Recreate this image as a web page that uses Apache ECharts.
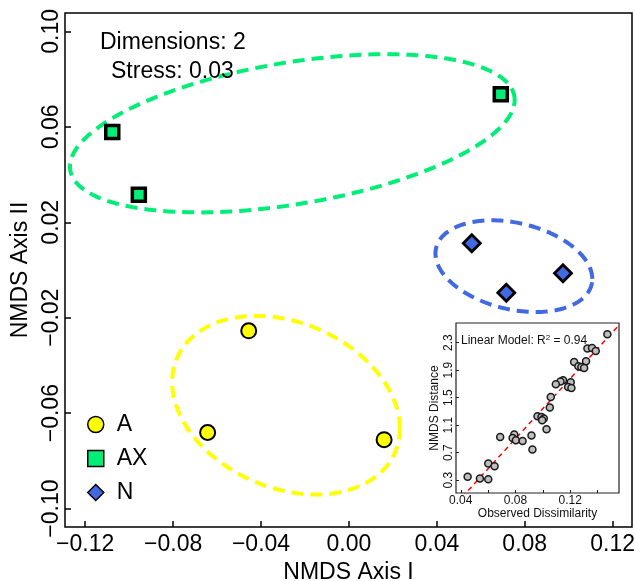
<!DOCTYPE html>
<html>
<head>
<meta charset="utf-8">
<script src="https://cdn.jsdelivr.net/npm/echarts@6/dist/echarts.min.js"></script>
<style>
  html, body { margin: 0; padding: 0; background: #fff; }
  #chart { width: 635px; height: 581px; }
</style>
</head>
<body>
<div id="chart"></div>
<script>
// NMDS ordination scores per group (Axis I, Axis II)
const groupNames = ['A', 'AX', 'N'];
const scoresA  = [[-0.0456, -0.0255], [-0.0643, -0.0681], [0.0160, -0.0711]];
const scoresAX = [[-0.1077, 0.0578], [-0.0956, 0.0315], [0.0691, 0.0737]];
const scoresN  = [[0.0559, 0.0112], [0.0716, -0.0095], [0.0974, -0.0014]];

// Group dispersion ellipses: centre plus two conjugate semi-axis vectors (data units)
const ellipseA  = { center: [-0.02864, -0.05665], u: [0.05182, -0.00978], v: [0, 0.03613] };
const ellipseAX = { center: [-0.02577, 0.05728], u: [0.10118, 0.01397], v: [0, 0.03005] };
const ellipseN  = { center: [0.07505, 0.0016], u: [0.03568, -0.00533], v: [0, 0.01846] };

// Main axis ticks
const xTicks = [-0.12, -0.08, -0.04, 0, 0.04, 0.08, 0.12];
const yTicks = [-0.10, -0.06, -0.02, 0.02, 0.06, 0.10];

// Shepard diagram (inset): observed dissimilarity vs ordination distance
const obsDissimilarity = [0.1472, 0.1326, 0.1360, 0.1387, 0.1229, 0.1316, 0.1260, 0.1282, 0.1302,
  0.1148, 0.1129, 0.1095, 0.1204, 0.1185, 0.1209, 0.1058, 0.1051, 0.0961, 0.0990, 0.1007, 0.0995,
  0.1027, 0.0917, 0.0924, 0.0688, 0.0791, 0.0779, 0.0803, 0.0852, 0.0601, 0.0647, 0.0450, 0.0540, 0.0601];
const nmdsDistance = [2.422, 2.214, 2.223, 2.179, 2.020, 2.030, 1.957, 1.947, 1.932,
  1.753, 1.734, 1.695, 1.725, 1.656, 1.642, 1.511, 1.357, 1.230, 1.220, 1.197, 1.173,
  1.041, 0.950, 0.746, 0.930, 0.964, 0.915, 0.881, 0.870, 0.542, 0.503, 0.350, 0.325, 0.315];
const fitIntercept = -0.838;
const fitSlope = 21.78;
const fitR2 = 0.94;
const insetXTicks = [0.04, 0.06, 0.08, 0.10, 0.12, 0.14];
const insetXLabels = [0.04, 0.08, 0.12];
const insetYTicks = [0.3, 0.7, 1.1, 1.5, 1.9, 2.3];

const stressText = ['Dimensions: 2', 'Stress: 0.03'];

const FONT = 'Liberation Sans, Arial, Helvetica, sans-serif';
const colA = '#FFFF00', colAX = '#00EE76', colN = '#4169E1';

const fmtSigned = (v, d) => (v < -1e-9 ? '\u2212' : '') + Math.abs(v).toFixed(d);

const X_MIN = -0.1292, X_MAX = 0.1288, Y_MIN = -0.1077, Y_MAX = 0.1077;
const IX_MIN = 0.0365, IX_MAX = 0.1557, IY_MIN = 0.115, IY_MAX = 2.585;

function ellipseSeries(e, color) {
  return {
    type: 'custom',
    xAxisIndex: 0, yAxisIndex: 0,
    silent: true,
    z: 2,
    data: [e.center],
    renderItem: function (params, api) {
      const pts = [];
      const n = 180;
      for (let i = 0; i < n; i++) {
        const t = 2 * Math.PI * i / n;
        const c = Math.cos(t), s = Math.sin(t);
        pts.push(api.coord([
          e.center[0] + e.u[0] * c + e.v[0] * s,
          e.center[1] + e.u[1] * c + e.v[1] * s
        ]));
      }
      return {
        type: 'polygon',
        shape: { points: pts },
        style: { fill: 'none', stroke: color, lineWidth: 4, lineDash: [12, 7], lineCap: 'butt' }
      };
    }
  };
}

const chart = echarts.init(document.getElementById('chart'), null, { renderer: 'canvas' });

const option = {
  animation: false,
  backgroundColor: '#fff',
  textStyle: { fontFamily: FONT },
  grid: [
    { left: 65, top: 13, width: 567, height: 514, show: true, borderColor: '#000', borderWidth: 1.5,
      backgroundColor: 'transparent', containLabel: false, outerBoundsMode: 'none' },
    { left: 456, top: 323, width: 163, height: 170, show: true, borderColor: '#222', borderWidth: 1.2,
      backgroundColor: '#fff', containLabel: false, outerBoundsMode: 'none', z: 5 }
  ],
  xAxis: [
    {
      type: 'value', gridIndex: 0, min: X_MIN, max: X_MAX,
      name: 'NMDS Axis I', nameLocation: 'middle', nameGap: 31,
      nameTextStyle: { fontSize: 23, color: '#000', fontFamily: FONT },
      axisLine: { show: false, onZero: false },
      splitLine: { show: false },
      axisTick: { show: true, inside: true, length: 6, customValues: xTicks, lineStyle: { color: '#000', width: 1.5 } },
      axisLabel: { show: true, customValues: xTicks, margin: 6, fontSize: 23, color: '#000', fontFamily: FONT,
        formatter: v => fmtSigned(v, 2) }
    },
    {
      type: 'value', gridIndex: 1, min: IX_MIN, max: IX_MAX, z: 6,
      name: 'Observed Dissimilarity', nameLocation: 'middle', nameGap: 14,
      nameTextStyle: { fontSize: 12, color: '#111', fontFamily: FONT },
      axisLine: { show: false, onZero: false },
      splitLine: { show: false },
      axisTick: { show: true, inside: true, length: 3, customValues: insetXTicks, lineStyle: { color: '#222', width: 1 } },
      axisLabel: { show: true, customValues: insetXLabels, margin: 2, fontSize: 12, color: '#111', fontFamily: FONT,
        formatter: v => v.toFixed(2) }
    }
  ],
  yAxis: [
    {
      type: 'value', gridIndex: 0, min: Y_MIN, max: Y_MAX,
      name: 'NMDS Axis II', nameLocation: 'middle', nameGap: 30, nameRotate: 90,
      nameTextStyle: { fontSize: 23, color: '#000', fontFamily: FONT },
      axisLine: { show: false, onZero: false },
      splitLine: { show: false },
      axisTick: { show: true, inside: true, length: 6, customValues: yTicks, lineStyle: { color: '#000', width: 1.5 } },
      axisLabel: { show: true, customValues: yTicks, rotate: 90, margin: 2, fontSize: 23, color: '#000', fontFamily: FONT,
        formatter: v => fmtSigned(v, 2) }
    },
    {
      type: 'value', gridIndex: 1, min: IY_MIN, max: IY_MAX, z: 6,
      name: 'NMDS Distance', nameLocation: 'middle', nameGap: 15, nameRotate: 90,
      nameTextStyle: { fontSize: 12, color: '#111', fontFamily: FONT },
      axisLine: { show: false, onZero: false },
      splitLine: { show: false },
      axisTick: { show: true, inside: true, length: 3, customValues: insetYTicks, lineStyle: { color: '#222', width: 1 } },
      axisLabel: { show: true, customValues: insetYTicks, rotate: 90, margin: 1, fontSize: 12, color: '#111', fontFamily: FONT,
        formatter: v => v.toFixed(1) }
    }
  ],
  legend: {
    orient: 'vertical', left: 82, top: 408,
    itemWidth: 16, itemHeight: 16, itemGap: 11,
    selectedMode: false,
    textStyle: { fontSize: 23, color: '#000', fontFamily: FONT, padding: [0, 0, 0, 8] },
    data: [
      { name: groupNames[0], icon: 'circle', itemStyle: { color: colA, borderColor: '#000', borderWidth: 1.5 } },
      { name: groupNames[1], icon: 'rect', itemStyle: { color: colAX, borderColor: '#000', borderWidth: 1.5 } },
      { name: groupNames[2], icon: 'diamond', itemStyle: { color: colN, borderColor: '#000', borderWidth: 1.5 } }
    ]
  },
  graphic: [
    { type: 'text', left: 100, top: 31, z: 10, silent: true,
      style: { text: stressText[0], fontSize: 23, fill: '#000', fontFamily: FONT } },
    { type: 'text', left: 111, top: 60, z: 10, silent: true,
      style: { text: stressText[1], fontSize: 23, fill: '#000', fontFamily: FONT } },
    { type: 'text', left: 461, top: 334, z: 20, silent: true,
      style: {
        text: '{t|Linear Model: R}{s|2}{t| = ' + fitR2.toFixed(2) + '}',
        fontFamily: FONT,
        rich: {
          t: { fontSize: 12, fill: '#111', fontFamily: FONT },
          s: { fontSize: 8, fill: '#111', fontFamily: FONT, verticalAlign: 'top', padding: [0, 0, 6, 0] }
        }
      } }
  ],
  series: [
    ellipseSeries(ellipseA, colA),
    ellipseSeries(ellipseAX, colAX),
    ellipseSeries(ellipseN, colN),
    {
      name: groupNames[0], type: 'scatter', xAxisIndex: 0, yAxisIndex: 0, z: 4,
      symbol: 'circle', symbolSize: 15, data: scoresA,
      itemStyle: { color: colA, borderColor: '#000', borderWidth: 2, opacity: 1 }
    },
    {
      name: groupNames[1], type: 'scatter', xAxisIndex: 0, yAxisIndex: 0, z: 4,
      symbol: 'rect', symbolSize: 13, data: scoresAX,
      itemStyle: { color: colAX, borderColor: '#000', borderWidth: 3.5, opacity: 1 }
    },
    {
      name: groupNames[2], type: 'scatter', xAxisIndex: 0, yAxisIndex: 0, z: 4,
      symbol: 'diamond', symbolSize: 17, data: scoresN,
      itemStyle: { color: colN, borderColor: '#000', borderWidth: 2.8, opacity: 1 }
    },
    {
      name: 'fit', type: 'line', xAxisIndex: 1, yAxisIndex: 1, z: 12,
      clip: true, symbol: 'none', silent: true,
      data: [[IX_MIN, fitIntercept + fitSlope * IX_MIN], [IX_MAX, fitIntercept + fitSlope * IX_MAX]],
      lineStyle: { color: '#FF0000', width: 1.5, type: [5, 4] }
    },
    {
      name: 'shepard', type: 'scatter', xAxisIndex: 1, yAxisIndex: 1, z: 13,
      symbol: 'circle', symbolSize: 7,
      data: obsDissimilarity.map((d, i) => [d, nmdsDistance[i]]),
      itemStyle: { color: '#BEBEBE', borderColor: '#1a1a1a', borderWidth: 1.5, opacity: 1 }
    }
  ]
};

chart.setOption(option);
</script>
</body>
</html>
